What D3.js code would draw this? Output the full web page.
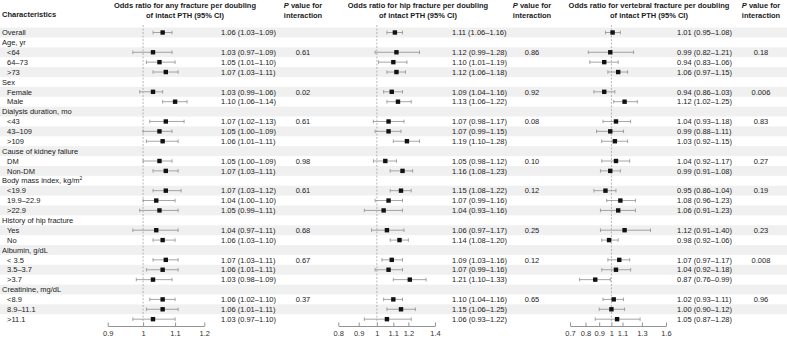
<!DOCTYPE html>
<html>
<head>
<meta charset="utf-8">
<title>Forest plot</title>
<script src="https://d3js.org/d3.v7.min.js"></script>
<style>
  body { margin: 0; background: #fff; }
  text { font-family: "Liberation Sans", Arial, sans-serif; font-size: 7.5px; fill: #1a1a1a; }
  .hdr { font-weight: bold; }
  .axis text { font-size: 7.5px; fill: #333; }
  .axis path, .axis line { stroke: #777; stroke-width: 0.8; }
</style>
</head>
<body>
<div id="chart"></div>
<script>
// rows (null estimate = group heading)
var rowLabels = ["Overall", "Age, yr", "<64", "64\u201373", ">73", "Sex", "Female", "Male",
  "Dialysis duration, mo", "<43", "43\u2013109", ">109", "Cause of kidney failure", "DM", "Non-DM",
  "Body mass index, kg/m", "<19.9", "19.9\u201322.9", ">22.9", "History of hip fracture", "Yes", "No",
  "Albumin, g/dL", "< 3.5", "3.5\u20133.7", ">3.7", "Creatinine, mg/dL", "<8.9", "8.9\u201311.1", ">11.1"];
var subRow = [0,0,1,1,1,0,1,1,0,1,1,1,0,1,1,0,1,1,1,0,1,1,0,1,1,1,0,1,1,1];

// any fracture
var anyEst = [1.06,null,1.03,1.05,1.07,null,1.03,1.10,null,1.07,1.05,1.06,null,1.05,1.07,null,1.07,1.04,1.05,null,1.04,1.06,null,1.07,1.06,1.03,null,1.06,1.06,1.03];
var anyLo  = [1.03,null,0.97,1.01,1.03,null,0.99,1.06,null,1.02,1.00,1.01,null,1.00,1.03,null,1.03,1.00,0.99,null,0.97,1.03,null,1.03,1.01,0.98,null,1.02,1.01,0.97];
var anyHi  = [1.09,null,1.09,1.10,1.11,null,1.06,1.14,null,1.13,1.09,1.11,null,1.09,1.11,null,1.12,1.10,1.11,null,1.11,1.10,null,1.11,1.11,1.09,null,1.10,1.11,1.10];
var anyP   = ["","","0.61","","","","0.02","","","0.61","","","","0.98","","","0.61","","","","0.68","","","0.67","","","","0.37","",""];

// hip fracture
var hipEst = [1.11,null,1.12,1.10,1.12,null,1.09,1.13,null,1.07,1.07,1.19,null,1.05,1.16,null,1.15,1.07,1.04,null,1.06,1.14,null,1.09,1.07,1.21,null,1.10,1.15,1.06];
var hipLo  = [1.06,null,0.99,1.01,1.06,null,1.04,1.06,null,0.98,0.99,1.10,null,0.98,1.08,null,1.08,0.99,0.93,null,0.97,1.08,null,1.03,0.99,1.10,null,1.04,1.06,0.93];
var hipHi  = [1.16,null,1.28,1.19,1.18,null,1.16,1.22,null,1.17,1.15,1.28,null,1.12,1.23,null,1.22,1.16,1.16,null,1.17,1.20,null,1.16,1.16,1.33,null,1.16,1.25,1.22];
var hipP   = ["","","0.86","","","","0.92","","","0.08","","","","0.10","","","0.12","","","","0.25","","","0.12","","","","0.65","",""];

// vertebral fracture
var vertEst = [1.01,null,0.99,0.94,1.06,null,0.94,1.12,null,1.04,0.99,1.03,null,1.04,0.99,null,0.95,1.08,1.06,null,1.12,0.98,null,1.07,1.04,0.87,null,1.02,1.00,1.05];
var vertLo  = [0.95,null,0.82,0.83,0.97,null,0.86,1.02,null,0.93,0.88,0.92,null,0.92,0.91,null,0.86,0.96,0.91,null,0.91,0.92,null,0.97,0.92,0.76,null,0.93,0.90,0.87];
var vertHi  = [1.08,null,1.21,1.06,1.15,null,1.03,1.25,null,1.18,1.11,1.15,null,1.17,1.08,null,1.04,1.23,1.23,null,1.40,1.06,null,1.17,1.18,0.99,null,1.11,1.12,1.28];
var vertP   = ["","","0.18","","","","0.006","","","0.83","","","","0.27","","","0.19","","","","0.23","","","0.008","","","","0.96","",""];

var anyTicks = [0.9, 1, 1.1, 1.2];
var hipTicks = [0.8, 0.9, 1, 1.1, 1.2, 1.4];
var vertTicks = [0.7, 0.8, 0.9, 1, 1.1, 1.3, 1.6];

var width = 787, height = 340;
var svg = d3.select("#chart").append("svg")
  .attr("width", width).attr("height", height);

var pitch = 9.885;
var y = d3.scaleBand().domain(d3.range(rowLabels.length))
  .range([32.5 - pitch / 2, 32.5 - pitch / 2 + pitch * rowLabels.length]);
var axisY = 326;

// stripes
svg.selectAll("rect.band").data(d3.range(rowLabels.length).filter(function(i) { return i % 2 === 0; }))
  .enter().append("rect").attr("class", "band")
  .attr("x", 0).attr("width", width)
  .attr("y", function(i) { return y(i); })
  .attr("height", y.bandwidth())
  .attr("fill", "#f0f0f0");

// row labels
var lab = svg.selectAll("text.lab").data(rowLabels).enter().append("text")
  .attr("class", "lab")
  .attr("x", function(d, i) { return subRow[i] ? 7 : 2; })
  .attr("y", function(d, i) { return y(i) + y.bandwidth() / 2 + 2.7; })
  .text(function(d) { return d; });
lab.filter(function(d) { return d.indexOf("kg/m") >= 0; })
  .append("tspan").attr("dy", -3).style("font-size", "5px").text("2");

svg.append("text").attr("class", "hdr").attr("x", 2).attr("y", 17).text("Characteristics");

function header(cx, l1, l2, italicP) {
  var t1 = svg.append("text").attr("class", "hdr").attr("x", cx).attr("y", 8).attr("text-anchor", "middle");
  if (italicP) {
    t1.append("tspan").style("font-style", "italic").text("P");
    t1.append("tspan").text(" value for");
  } else {
    t1.text(l1);
  }
  svg.append("text").attr("class", "hdr").attr("x", cx).attr("y", 18).attr("text-anchor", "middle").text(l2);
}

function panel(opts) {
  var x = d3.scaleLog().domain(opts.domain).range(opts.range);
  var g = svg.append("g");

  // reference line
  g.append("line")
    .attr("x1", x(1)).attr("x2", x(1))
    .attr("y1", 25).attr("y2", axisY - 3)
    .attr("stroke", "#999").attr("stroke-width", 0.7)
    .attr("stroke-dasharray", "2,1.5");

  var idx = d3.range(opts.est.length).filter(function(i) { return opts.est[i] != null; });

  var ci = g.selectAll("g.ci").data(idx).enter().append("g").attr("class", "ci");
  ci.append("line")
    .attr("x1", function(i) { return x(opts.lo[i]); })
    .attr("x2", function(i) { return x(opts.hi[i]); })
    .attr("y1", function(i) { return y(i) + y.bandwidth() / 2; })
    .attr("y2", function(i) { return y(i) + y.bandwidth() / 2; })
    .attr("stroke", "#8f8f8f").attr("stroke-width", 0.8);
  [opts.lo, opts.hi].forEach(function(arr) {
    ci.append("line")
      .attr("x1", function(i) { return x(arr[i]); })
      .attr("x2", function(i) { return x(arr[i]); })
      .attr("y1", function(i) { return y(i) + y.bandwidth() / 2 - 1.8; })
      .attr("y2", function(i) { return y(i) + y.bandwidth() / 2 + 1.8; })
      .attr("stroke", "#8f8f8f").attr("stroke-width", 0.8);
  });
  var s = 4.4;
  ci.append("rect")
    .attr("x", function(i) { return x(opts.est[i]) - s / 2; })
    .attr("y", function(i) { return y(i) + y.bandwidth() / 2 - s / 2; })
    .attr("width", s).attr("height", s)
    .attr("fill", "#111");

  // estimate text
  g.selectAll("text.est").data(idx).enter().append("text")
    .attr("class", "est")
    .attr("x", opts.textX)
    .attr("y", function(i) { return y(i) + y.bandwidth() / 2 + 2.7; })
    .text(function(i) {
      return opts.est[i].toFixed(2) + " (" + opts.lo[i].toFixed(2) + "\u2013" + opts.hi[i].toFixed(2) + ")";
    });

  // p values
  g.selectAll("text.p").data(d3.range(opts.p.length).filter(function(i) { return opts.p[i] !== ""; }))
    .enter().append("text")
    .attr("x", opts.pX).attr("text-anchor", "middle")
    .attr("y", function(i) { return y(i) + y.bandwidth() / 2 + 2.7; })
    .text(function(i) { return opts.p[i]; });

  // axis
  var ax = g.append("g").attr("class", "axis")
    .attr("transform", "translate(0," + axisY + ")")
    .call(d3.axisBottom(x).tickValues(opts.ticks)
      .tickFormat(function(d) { return String(d); })
      .tickSize(-3.5).tickSizeOuter(0).tickPadding(5));

  header(opts.hdrX, opts.title, "of intact PTH (95% CI)", false);
  header(opts.pX, "", "interaction", true);
}

panel({ domain: [0.9, 1.2], range: [107.7, 204.3], ticks: anyTicks,
  est: anyEst, lo: anyLo, hi: anyHi, p: anyP, textX: 221, pX: 303, hdrX: 185,
  title: "Odds ratio for any fracture per doubling" });
panel({ domain: [0.8, 1.4], range: [338.3, 435], ticks: hipTicks,
  est: hipEst, lo: hipLo, hi: hipHi, p: hipP, textX: 452, pX: 532, hdrX: 418,
  title: "Odds ratio for hip fracture per doubling" });
panel({ domain: [0.7, 1.6], range: [570, 666], ticks: vertTicks,
  est: vertEst, lo: vertLo, hi: vertHi, p: vertP, textX: 677, pX: 761, hdrX: 649,
  title: "Odds ratio for vertebral fracture per doubling" });
</script>
</body>
</html>
